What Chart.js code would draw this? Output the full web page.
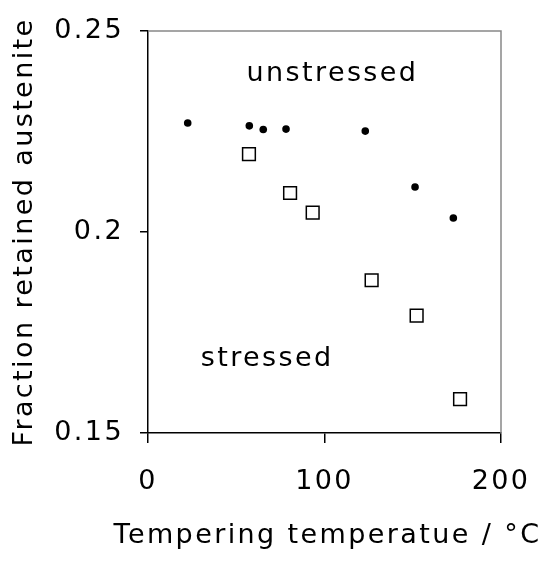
<!DOCTYPE html>
<html>
<head>
<meta charset="utf-8">
<script src="https://cdn.jsdelivr.net/npm/chart.js@4/dist/chart.umd.min.js"></script>
<style>
  html, body { margin: 0; padding: 0; background: #fff; }
  #wrap { width: 544px; height: 564px; }
</style>
</head>
<body>
<div id="wrap"><canvas id="chart"></canvas></div>
<script>
// tempering temperature (°C) and fraction of retained austenite
var unstressedTemp = [22.5, 57.4, 65.3, 78.2, 123.1, 151.3, 173.0];
var unstressedFrac = [0.2271, 0.2264, 0.2255, 0.2256, 0.2251, 0.2112, 0.2035];
var stressedTemp = [57.2, 80.5, 93.3, 126.7, 152.2, 176.8];
var stressedFrac = [0.2194, 0.2097, 0.2048, 0.1880, 0.1792, 0.1584];
var xTicks = [0, 100, 200];
var yTicks = [0.15, 0.2, 0.25];
var xTitle = 'Tempering temperatue / °C';
var yTitle = 'Fraction retained austenite';
// labels written inside the plot, at data positions
var notes = [
    { text: "unstressed", x: 104.5, y: 0.2392 },
    { text: "stressed", x: 67.5, y: 0.1684 }
];

var FONT = "'DejaVu Sans', Verdana, sans-serif";
var FSIZE = 27;
var SPACING = '2.4px';

function toPoints(xs, ys) {
    return xs.map(function (x, i) { return { x: x, y: ys[i] }; });
}

//the original lettering is spaced wide, canvas state is reset on resize so set it each time
var spacingPlugin = {
    id: 'spacing',
    beforeUpdate: function (chart) { chart.ctx.letterSpacing = SPACING; },
    beforeLayout: function (chart) { chart.ctx.letterSpacing = SPACING; },
    beforeDraw: function (chart) { chart.ctx.letterSpacing = SPACING; }
};

//gray frame on top and right, the text notes and both axis titles
//(titles drawn here since chart.js squeezes a title wider than the axis)
var framePlugin = {
    id: 'frame',
    beforeDatasetsDraw: function (chart) {
        var a = chart.chartArea;
        var ctx = chart.ctx;
        ctx.save();
        ctx.strokeStyle = '#888888';
        ctx.lineWidth = 1.5;
        ctx.beginPath();
        ctx.moveTo(a.left, a.top);
        ctx.lineTo(a.right, a.top);
        ctx.lineTo(a.right, a.bottom);
        ctx.stroke();
        ctx.restore();
    },
    afterDraw: function (chart) {
        var ctx = chart.ctx;
        var a = chart.chartArea;
        var xs = chart.scales.x, ys = chart.scales.y;
        ctx.save();
        ctx.fillStyle = '#000';
        ctx.font = FSIZE + 'px ' + FONT;
        ctx.textAlign = 'center';
        ctx.textBaseline = 'middle';
        notes.forEach(function (n) {
            ctx.fillText(n.text, xs.getPixelForValue(n.x), ys.getPixelForValue(n.y));
        });
        ctx.textBaseline = 'alphabetic';
        ctx.fillText(xTitle, (a.left + a.right) / 2 + 3, chart.height - 21);
        ctx.translate(32, (a.top + a.bottom) / 2);
        ctx.rotate(-Math.PI / 2);
        ctx.fillText(yTitle, 0, 0);
        ctx.restore();
    }
};

new Chart(document.getElementById('chart'), {
    type: 'scatter',
    data: {
        datasets: [{
            label: 'unstressed',
            data: toPoints(unstressedTemp, unstressedFrac),
            pointStyle: 'circle',
            pointRadius: 3.8,
            backgroundColor: '#000',
            borderColor: '#000',
            borderWidth: 0
        }, {
            label: 'stressed',
            data: toPoints(stressedTemp, stressedFrac),
            pointStyle: 'rect',
            pointRadius: 9,
            backgroundColor: '#fff',
            borderColor: '#000',
            borderWidth: 1.5
        }]
    },
    options: {
        responsive: true,
        maintainAspectRatio: false,
        animation: false,
        layout: { padding: { left: 0, right: 43, top: 31, bottom: 0 } },
        plugins: {
            legend: { display: false },
            tooltip: { enabled: false }
        },
        scales: {
            x: {
                type: 'linear',
                min: 0,
                max: 200,
                afterBuildTicks: function (s) { s.ticks = xTicks.map(function (v) { return { value: v }; }); },
                afterFit: function (s) {
                    s.height = 131;
                    s.paddingLeft = 0;
                    s.paddingRight = 0;
                },
                grid: { drawOnChartArea: false, drawTicks: true, tickLength: 10, color: '#000', lineWidth: 1.5 },
                border: { color: '#000', width: 1.5 },
                ticks: { color: '#000', font: { family: FONT, size: FSIZE }, padding: 23, maxRotation: 0 }
            },
            y: {
                type: 'linear',
                min: 0.15,
                max: 0.25,
                afterBuildTicks: function (s) { s.ticks = yTicks.map(function (v) { return { value: v }; }); },
                afterFit: function (s) {
                    s.width = 148;
                    s.paddingTop = 0;
                    s.paddingBottom = 0;
                },
                grid: { drawOnChartArea: false, drawTicks: true, tickLength: 8, color: '#000', lineWidth: 1.5 },
                border: { color: '#000', width: 1.5 },
                ticks: {
                    color: '#000',
                    font: { family: FONT, size: FSIZE },
                    padding: 16,
                    callback: function (v) { return String(v); }
                }
            }
        }
    },
    plugins: [spacingPlugin, framePlugin]
});
</script>
</body>
</html>
